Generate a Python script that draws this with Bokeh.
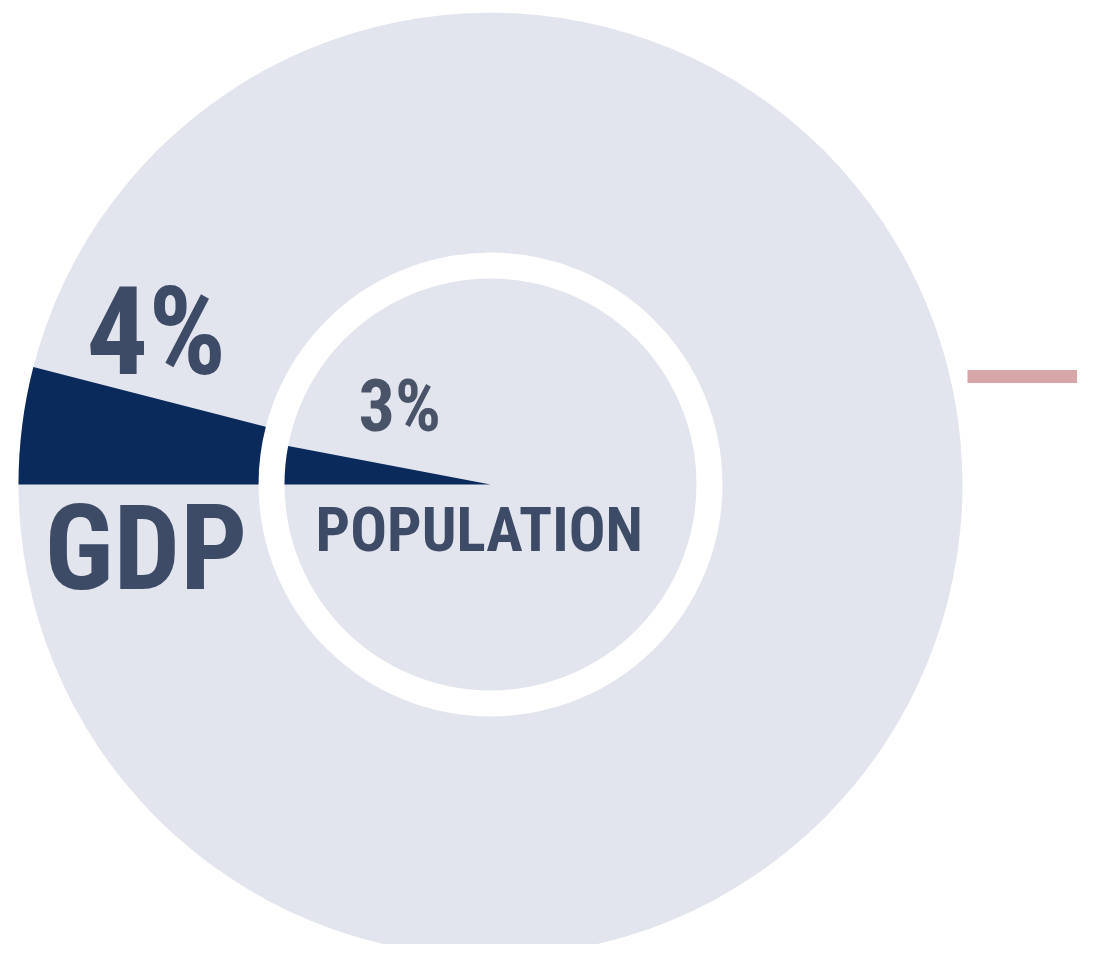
import math
from bokeh.plotting import figure
from bokeh.models import Range1d, ColumnDataSource
from bokeh.core.properties import value
from bokeh.embed import file_html
from bokeh.resources import INLINE

# ---- data ----
series = ["GDP", "POPULATION"]
share_pct = [4, 3]

# ---- layout / style ----
IMG_H = 960
def Y(y_img):
    return IMG_H - y_img

def base(bottom, size):
    # place glyph bottoms at the wanted image row
    return Y(bottom - 0.38 * size)

cx, cy = 490, Y(484)
ring_inner = [232, 0]
ring_outer = [472, 206]
GREY = "#e2e5ed"
NAVY = "#0b2a5c"
TXT = "#3e4b66"
FONT = value("Noto Sans Condensed, Roboto Condensed, Open Sans Condensed, DejaVu Sans Condensed, sans-serif")

p = figure(width=1077, height=944, x_range=Range1d(0, 1077), y_range=Range1d(16, 960),
           output_backend="svg", toolbar_location=None, min_border=0,
           x_axis_location=None, y_axis_location=None)
p.grid.visible = False
p.outline_line_color = None
p.background_fill_color = "white"
p.border_fill_color = "white"

# background rings
p.annular_wedge(x=[cx, cx], y=[cy, cy], inner_radius=ring_inner, outer_radius=ring_outer,
                start_angle=0, end_angle=2 * math.pi, color=GREY, line_color=None)

# share wedges, starting at 9 o'clock and opening upward
angles = [v / 100 * 2 * math.pi for v in share_pct]
src = ColumnDataSource(dict(
    x=[cx, cx], y=[cy, cy], ri=ring_inner, ro=ring_outer,
    start=[math.pi - a for a in angles], end=[math.pi] * 2,
))
p.annular_wedge(x="x", y="y", inner_radius="ri", outer_radius="ro",
                start_angle="start", end_angle="end", source=src,
                fill_color=NAVY, line_color=None, direction="anticlock")

# labels
pct_labels = [f"{v}%" for v in share_pct]
pct_sizes = [122, 72]
p.text(x=[86, 358], y=[base(378, 122), base(433, 72)], text=pct_labels,
       text_font=FONT, text_font_style="bold", text_font_size=[f"{s}px" for s in pct_sizes],
       text_color=[TXT, "#4a5469"], text_align="left", text_baseline="alphabetic")
name_sizes = [118, 61]
p.text(x=[44, 315], y=[base(593, 118), base(553, 61)], text=series,
       text_font=FONT, text_font_style="bold", text_font_size=[f"{s}px" for s in name_sizes],
       text_color=TXT, text_align="left", text_baseline="alphabetic")

# connector line at right
p.segment(x0=[967], y0=[Y(376)], x1=[1093], y1=[Y(376)], line_color="#d6a6a8", line_width=13)

open("out.html", "w").write(file_html(p, INLINE))
